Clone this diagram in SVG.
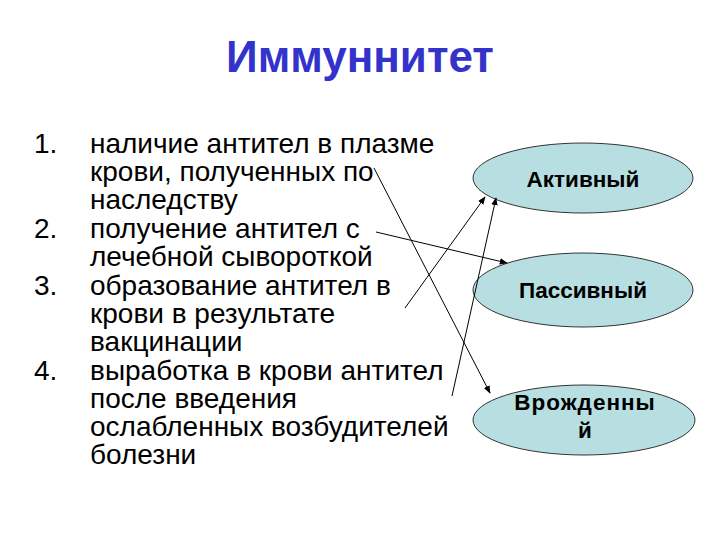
<svg xmlns="http://www.w3.org/2000/svg" width="720" height="540" viewBox="0 0 720 540">
<style>
.title{font-family:"Liberation Sans",Arial,sans-serif;font-size:44px;font-weight:bold;fill:#3333cc}
.item{font-family:"Liberation Sans",Arial,sans-serif;font-size:28px;fill:#000}
.node ellipse{fill:#b7dee1;stroke:#333;stroke-width:1}
.node text{font-family:"Liberation Sans",Arial,sans-serif;font-size:22.5px;font-weight:bold;fill:#000;text-anchor:middle}
.conn line{stroke:#000;stroke-width:1;marker-end:url(#arr)}
</style>
<defs>
<marker id="arr" viewBox="0 0 10 10" refX="9" refY="5" markerWidth="8" markerHeight="8" orient="auto" markerUnits="userSpaceOnUse">
<path d="M0,1 L10,5 L0,9 z" fill="#000"/>
</marker>
</defs>
<rect width="720" height="540" fill="#fff"/>
<text class="title" x="360" y="72" text-anchor="middle">Иммуннитет</text>
<g id="list" class="item">
<text x="34" y="153">1.</text>
<text x="90" y="153">наличие антител в плазме</text>
<text x="90" y="181">крови, полученных по</text>
<text x="90" y="209">наследству</text>
<text x="34" y="238">2.</text>
<text x="90" y="238">получение антител с</text>
<text x="90" y="266">лечебной сывороткой</text>
<text x="34" y="295">3.</text>
<text x="90" y="295">образование антител в</text>
<text x="90" y="323">крови в результате</text>
<text x="90" y="351">вакцинации</text>
<text x="34" y="380">4.</text>
<text x="90" y="380">выработка в крови антител</text>
<text x="90" y="408">после введения</text>
<text x="90" y="436">ослабленных возбудителей</text>
<text x="90" y="464">болезни</text>
</g>
<g id="active" class="node">
<ellipse cx="583" cy="178" rx="110" ry="35"/>
<text x="583" y="187">Активный</text>
</g>
<g id="passive" class="node">
<ellipse cx="583" cy="290" rx="110" ry="37"/>
<text x="583" y="298">Пассивный</text>
</g>
<g id="innate" class="node">
<ellipse cx="584" cy="420" rx="111" ry="35"/>
<text x="585" y="410" letter-spacing="1">Врожденны</text>
<text x="585" y="438">й</text>
</g>
<g id="connectors" class="conn">
<line x1="374" y1="168" x2="490" y2="393"/>
<line x1="376" y1="232" x2="507" y2="263"/>
<line x1="405" y1="308" x2="485" y2="197"/>
<line x1="452" y1="396" x2="496" y2="198"/>
</g>
</svg>
